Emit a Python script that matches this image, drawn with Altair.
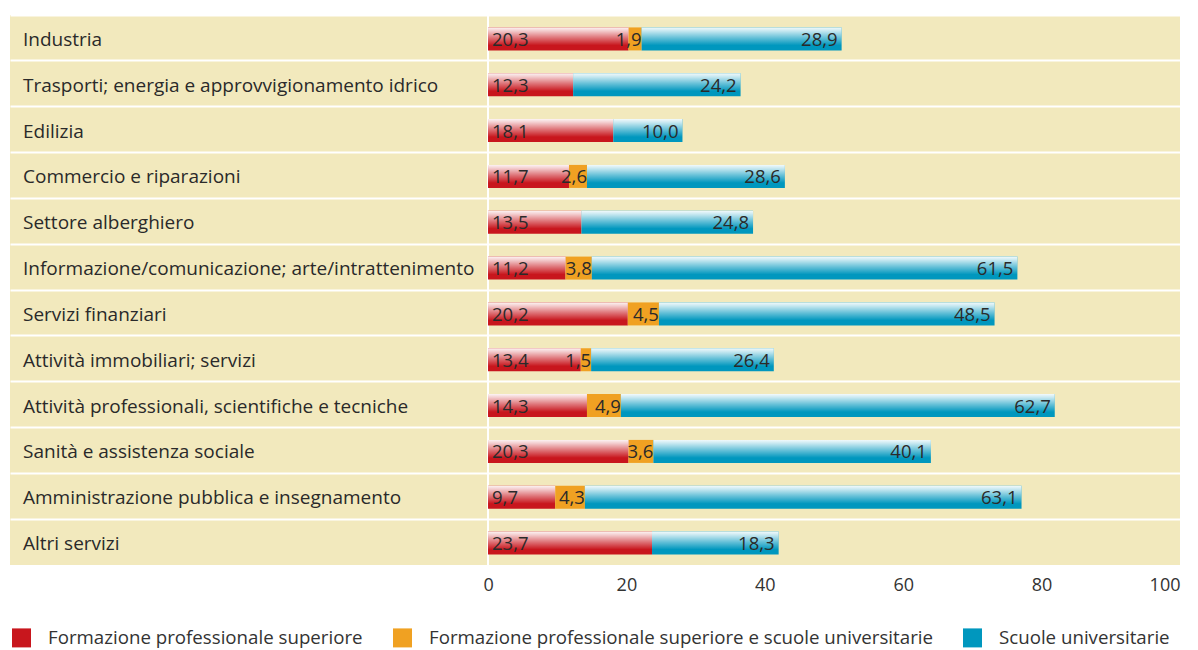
import altair as alt
import pandas as pd

categories = [
    "Industria",
    "Trasporti; energia e approvvigionamento idrico",
    "Edilizia",
    "Commercio e riparazioni",
    "Settore alberghiero",
    "Informazione/comunicazione; arte/intrattenimento",
    "Servizi finanziari",
    "Attività immobiliari; servizi",
    "Attività professionali, scientifiche e tecniche",
    "Sanità e assistenza sociale",
    "Amministrazione pubblica e insegnamento",
    "Altri servizi",
]
series = [
    "Formazione professionale superiore",
    "Formazione professionale superiore e scuole universitarie",
    "Scuole universitarie",
]
fps = [20.3, 12.3, 18.1, 11.7, 13.5, 11.2, 20.2, 13.4, 14.3, 20.3, 9.7, 23.7]
fps_su = [1.9, 0, 0, 2.6, 0, 3.8, 4.5, 1.5, 4.9, 3.6, 4.3, 0]
su = [28.9, 24.2, 10.0, 28.6, 24.8, 61.5, 48.5, 26.4, 62.7, 40.1, 63.1, 18.3]
colors = ["#C8161D", "#F0A122", "#0097BE"]
tick_values = [0, 20, 40, 60, 80, 100]

rows = []
for i, cat in enumerate(categories):
    start = 0.0
    for s, vals in zip(series, [fps, fps_su, su]):
        v = vals[i]
        rows.append({"cat": cat, "series": s, "value": v, "start": start, "end": start + v})
        start += v
df = pd.DataFrame(rows)
cat_df = pd.DataFrame({"cat": categories})

FONT = "Open Sans"
TXT = "#2a2a2a"

y_enc = alt.Y(
    "cat:N",
    sort=categories,
    scale=alt.Scale(paddingInner=0, paddingOuter=0),
    axis=alt.Axis(
        labels=False, ticks=False, domain=False, grid=True,
        gridColor="white", gridWidth=2, bandPosition=0, title=None,
    ),
)
x_scale = alt.Scale(domain=[-69.08, 100], nice=False, zero=False)
x_axis = alt.Axis(
    values=tick_values, grid=False, domain=False, ticks=False,
    labelFontSize=18, labelColor="#333333", labelPadding=11,
    labelFont=FONT, labelFlush=True, title=None,
)

base = alt.Chart(df)

bars = base.mark_bar(height=23, yOffset=1).encode(
    y=y_enc,
    x=alt.X("start:Q", scale=x_scale, axis=x_axis, title=None),
    x2="end:Q",
    color=alt.Color(
        "series:N",
        scale=alt.Scale(domain=series, range=colors),
        legend=alt.Legend(
            orient="none", direction="horizontal", legendX=2, legendY=613,
            title=None, symbolType="square", symbolSize=361,
            symbolStrokeWidth=0, symbolOpacity=1, labelFontSize=18.7,
            labelFont=FONT, labelColor="#333333", labelOffset=17,
            columnPadding=30, labelLimit=700,
        ),
    ),
).transform_filter("datum.value > 0")

gradient = alt.LinearGradient(
    gradient="linear", x1=0, y1=0, x2=0, y2=1,
    stops=[
        alt.GradientStop(color="rgba(255,255,255,0.95)", offset=0),
        alt.GradientStop(color="rgba(255,255,255,0.78)", offset=0.15),
        alt.GradientStop(color="rgba(255,255,255,0.4)", offset=0.45),
        alt.GradientStop(color="rgba(255,255,255,0)", offset=0.78),
    ],
)
shine = base.mark_bar(height=23, yOffset=1, fill=gradient).encode(
    y=y_enc,
    x=alt.X("start:Q", scale=x_scale, axis=x_axis, title=None),
    x2="end:Q",
).transform_filter(
    alt.datum.series != series[1]
).transform_filter("datum.value > 0")

label_common = dict(fontSize=18.5, font=FONT, color=TXT, baseline="middle", dy=2)

lab_red = base.mark_text(align="left", dx=4, **label_common).encode(
    y=y_enc,
    x=alt.X("start:Q", scale=x_scale, axis=x_axis, title=None),
    text="lbl:N",
).transform_filter(alt.datum.series == series[0]).transform_calculate(
    lbl="replace(format(datum.value, '.1f'), '.', ',')"
)
lab_or = base.mark_text(align="right", dx=0, **label_common).encode(
    y=y_enc,
    x=alt.X("end:Q", scale=x_scale, axis=x_axis, title=None),
    text="lbl:N",
).transform_filter(alt.datum.series == series[1]).transform_filter(
    "datum.value > 0"
).transform_calculate(lbl="replace(format(datum.value, '.1f'), '.', ',')")
lab_bl = base.mark_text(align="right", dx=-4, **label_common).encode(
    y=y_enc,
    x=alt.X("end:Q", scale=x_scale, axis=x_axis, title=None),
    text="lbl:N",
).transform_filter(alt.datum.series == series[2]).transform_calculate(
    lbl="replace(format(datum.value, '.1f'), '.', ',')"
)

zero_line = alt.Chart(pd.DataFrame({"z": [0]})).mark_rule(
    color="white", strokeWidth=2
).encode(x=alt.X("z:Q", scale=x_scale, axis=x_axis, title=None))

cat_text = alt.Chart(cat_df).mark_text(
    align="left", fontSize=19, font=FONT, color=TXT, baseline="middle", dy=2
).encode(y=y_enc, x=alt.value(13), text="cat:N")

chart = alt.layer(zero_line, bars, shine, lab_red, lab_or, lab_bl, cat_text).properties(
    width=1170, height=550,
    autosize=alt.AutoSizeParams(type="none"),
    padding={"left": 10, "top": 15, "right": 18, "bottom": 85},
    background="white",
).configure_view(fill="#F2E9BD", stroke=None)

chart.save("out.html", embed_options={"renderer": "svg", "actions": False})
